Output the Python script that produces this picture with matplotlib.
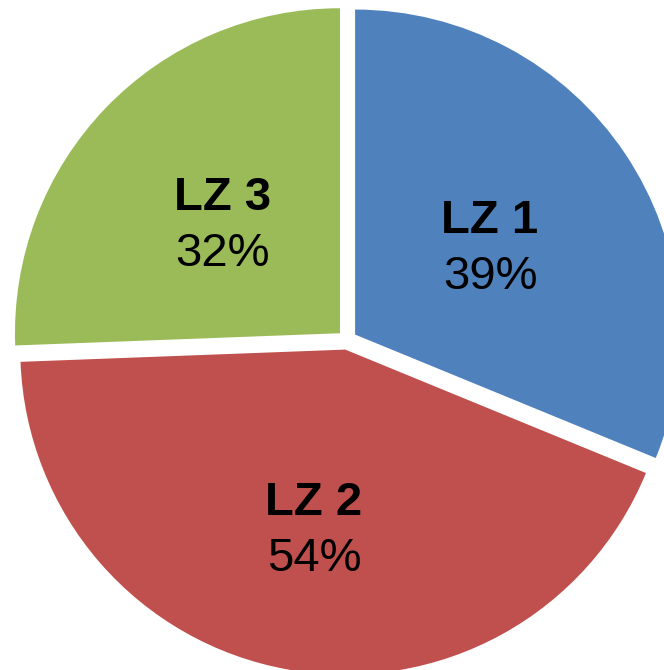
import numpy as np
from matplotlib import pyplot as plt

# data
names = ["LZ 1", "LZ 2", "LZ 3"]
values = [39, 54, 32]
colors = ["#4F81BD", "#C0504D", "#9BBB59"]

plt.rcParams['font.family'] = ['Liberation Sans', 'DejaVu Sans']

fig = plt.figure(figsize=(6.64, 6.70), dpi=100)
ax = fig.add_axes([0, 0, 1, 1])

wedges, _ = ax.pie(values, colors=colors, startangle=90, counterclock=False,
                   explode=[0.03] * len(values), radius=1.0,
                   wedgeprops=dict(linewidth=0))

# put the pie where it sits in the picture (centre ~ (347,340) px, radius ~325 px)
scale = 325.0
cx, cy = 347.0, 340.0
ax.set_xlim(-cx / scale, (664 - cx) / scale)
ax.set_ylim(-(670 - cy) / scale, cy / scale)
ax.set_aspect('auto')
ax.axis('off')

label_dist = [0.50, 0.55, 0.50]
for w, name, v, d in zip(wedges, names, values, label_dist):
    ang = np.deg2rad((w.theta1 + w.theta2) / 2)
    x = w.center[0] + d * np.cos(ang)
    y = w.center[1] + d * np.sin(ang)
    ax.annotate(name, (x, y), xytext=(0, 11), textcoords='offset pixels',
                ha='center', va='baseline', fontsize=34, fontweight='bold')
    ax.annotate(f"{v}%", (x, y), xytext=(0, -45), textcoords='offset pixels',
                ha='center', va='baseline', fontsize=34)

fig.savefig("out.png", dpi=100)
